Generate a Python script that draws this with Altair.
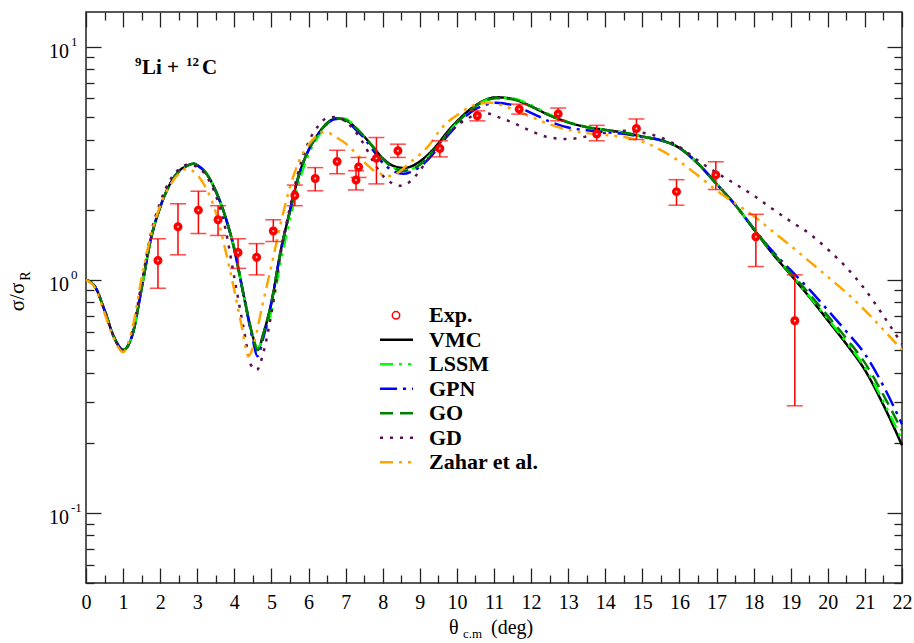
import altair as alt
import pandas as pd

# ---------------- data ----------------
MODELS = ["VMC", "LSSM", "GPN", "GO", "GD", "Zahar et al."]
COLORS = ["#000000", "#00ff00", "#0000ff", "#008000", "#5a1050", "#ffa500"]
DASHES = [[1, 0], [13, 6, 3, 6, 3, 6], [17, 6, 3, 6], [13, 7], [3, 7], [13, 6, 3, 6, 3, 6]]

THETA_A = [0, 0.25, 0.5, 0.75, 1.0, 1.25, 1.5, 1.75, 2.0, 2.25, 2.5, 2.75, 2.9, 3.0, 3.25,
           3.5, 3.75, 4.0, 4.25, 4.5, 4.62, 4.8, 5.0, 5.25, 5.5, 5.75, 6.0, 6.25, 6.5, 6.75,
           7.0, 7.25, 7.5, 7.75, 8.0, 8.25, 8.55, 8.75, 9.0, 9.25, 9.5, 9.75, 10.0, 10.25,
           10.5, 10.75, 11.05, 11.5, 12.0, 12.5, 13.0, 13.5, 14.0, 14.5, 15.0, 15.5, 16.0,
           16.5, 17.0, 17.5, 18.0, 18.5, 19.0, 19.5, 20.0, 20.5, 21.0, 21.5, 22.0]

VMC = [1.0, 0.93, 0.74, 0.57, 0.50, 0.58, 0.92, 1.50, 2.05, 2.55, 2.92, 3.10, 3.15, 3.10, 2.85,
       2.40, 1.88, 1.35, 0.86, 0.57, 0.50, 0.60, 0.80, 1.33, 1.98, 2.85, 3.60, 4.20, 4.70, 4.93,
       4.85, 4.52, 4.12, 3.70, 3.32, 3.10, 3.02, 3.06, 3.22, 3.48, 3.85, 4.33, 4.78, 5.22,
       5.60, 5.90, 6.07, 5.97, 5.55, 5.08, 4.74, 4.52, 4.40, 4.28, 4.12, 3.97, 3.68,
       3.15, 2.58, 2.10, 1.65, 1.30, 1.05, 0.845, 0.67, 0.53, 0.41, 0.29, 0.195]

LSSM = [1.0, 0.93, 0.74, 0.57, 0.50, 0.58, 0.92, 1.50, 2.05, 2.55, 2.92, 3.10, 3.15, 3.10, 2.85,
        2.40, 1.88, 1.35, 0.86, 0.57, 0.51, 0.58, 0.74, 1.20, 1.82, 2.65, 3.45, 4.10, 4.65, 4.95,
        4.90, 4.55, 4.12, 3.70, 3.30, 3.05, 2.95, 2.98, 3.12, 3.40, 3.78, 4.25, 4.72, 5.15,
        5.55, 5.88, 6.05, 6.00, 5.62, 5.12, 4.76, 4.53, 4.40, 4.28, 4.12, 3.97, 3.68,
        3.15, 2.58, 2.10, 1.66, 1.31, 1.06, 0.85, 0.68, 0.54, 0.42, 0.30, 0.205]

GPN = [1.0, 0.93, 0.74, 0.57, 0.50, 0.58, 0.92, 1.50, 2.05, 2.55, 2.92, 3.10, 3.15, 3.10, 2.85,
       2.40, 1.88, 1.35, 0.86, 0.55, 0.47, 0.58, 0.80, 1.33, 1.98, 2.85, 3.60, 4.20, 4.68, 4.90,
       4.80, 4.45, 4.05, 3.58, 3.18, 2.95, 2.85, 2.90, 3.05, 3.32, 3.70, 4.15, 4.60, 5.05,
       5.40, 5.62, 5.75, 5.62, 5.20, 4.78, 4.50, 4.38, 4.30, 4.23, 4.10, 3.97, 3.68,
       3.15, 2.58, 2.10, 1.66, 1.33, 1.10, 0.91, 0.74, 0.60, 0.48, 0.35, 0.24]

GO = [1.0, 0.93, 0.74, 0.57, 0.50, 0.58, 0.92, 1.50, 2.05, 2.55, 2.92, 3.10, 3.15, 3.10, 2.85,
      2.40, 1.88, 1.35, 0.86, 0.57, 0.50, 0.60, 0.80, 1.33, 1.98, 2.85, 3.60, 4.20, 4.70, 4.93,
      4.85, 4.52, 4.12, 3.70, 3.30, 3.05, 2.93, 2.97, 3.12, 3.40, 3.78, 4.25, 4.72, 5.15,
      5.55, 5.85, 6.02, 5.95, 5.55, 5.08, 4.74, 4.52, 4.40, 4.28, 4.12, 3.97, 3.68,
      3.15, 2.58, 2.10, 1.66, 1.32, 1.07, 0.87, 0.70, 0.56, 0.44, 0.32, 0.225]

THETA_GD = [0, 0.25, 0.5, 0.75, 1.0, 1.25, 1.5, 1.75, 2.0, 2.25, 2.5, 2.75, 3.0, 3.25, 3.5,
            3.75, 4.0, 4.25, 4.45, 4.6, 4.8, 5.0, 5.25, 5.5, 5.75, 6.0, 6.25, 6.5, 6.75, 7.0,
            7.25, 7.5, 7.75, 8.0, 8.25, 8.5, 8.75, 9.0, 9.25, 9.5, 9.75, 10.0, 10.25, 10.5,
            10.8, 11.1, 11.5, 12.0, 12.5, 13.0, 13.5, 14.0, 14.5, 15.0, 15.5, 16.0, 16.5,
            17.0, 17.5, 18.0, 18.5, 19.0, 19.5, 20.0, 20.5, 21.0, 21.5, 22.0]
GD = [1.0, 0.93, 0.74, 0.57, 0.50, 0.60, 0.97, 1.58, 2.15, 2.65, 2.98, 3.12, 3.05, 2.78, 2.30,
      1.68, 1.02, 0.62, 0.43, 0.41, 0.50, 0.72, 1.30, 2.05, 3.00, 3.90, 4.55, 4.95, 5.00, 4.78,
      4.35, 3.80, 3.20, 2.80, 2.60, 2.53, 2.65, 2.94, 3.35, 3.80, 4.22, 4.58, 4.88, 5.10,
      5.18, 5.00, 4.73, 4.35, 4.08, 4.02, 4.12, 4.28, 4.36, 4.28, 4.08, 3.72, 3.25,
      2.88, 2.58, 2.30, 2.02, 1.78, 1.58, 1.35, 1.13, 0.91, 0.70, 0.53]

THETA_Z = [0, 0.25, 0.5, 0.75, 1.0, 1.25, 1.5, 1.75, 2.0, 2.25, 2.5, 2.7, 3.0, 3.25, 3.5,
           3.75, 4.0, 4.2, 4.38, 4.55, 4.75, 5.0, 5.25, 5.5, 5.75, 6.0, 6.25, 6.45, 6.75,
           7.0, 7.25, 7.5, 7.75, 8.0, 8.2, 8.5, 8.75, 9.0, 9.25, 9.5, 9.75, 10.0, 10.35,
           10.6, 10.9, 11.2, 11.5, 12.0, 12.5, 13.0, 13.5, 14.0, 14.5, 15.0, 15.5, 16.0,
           16.5, 17.0, 17.5, 18.0, 18.5, 19.0, 19.5, 20.0, 20.5, 21.0, 21.5, 22.0]
ZAHAR = [1.0, 0.92, 0.72, 0.56, 0.49, 0.62, 1.02, 1.55, 2.08, 2.52, 2.85, 2.99, 2.82, 2.45,
         1.95, 1.36, 0.90, 0.63, 0.47, 0.55, 0.77, 1.15, 1.75, 2.50, 3.25, 3.80, 4.18, 4.32,
         4.08, 3.85, 3.52, 3.20, 2.95, 2.83, 2.79, 2.95, 3.20, 3.45, 3.78, 4.30, 4.75, 5.08,
         5.52, 5.70, 5.75, 5.62, 5.40, 5.00, 4.65, 4.40, 4.26, 4.18, 4.10, 3.92, 3.60,
         3.22, 2.80, 2.42, 2.13, 1.88, 1.62, 1.40, 1.20, 1.03, 0.88, 0.74, 0.61, 0.50]

EXP_THETA = [1.94, 2.48, 3.03, 3.56, 4.10, 4.60, 5.05, 5.63, 6.18, 6.77, 7.28, 7.35, 7.83,
             8.41, 9.54, 10.55, 11.68, 12.73, 13.77, 14.84, 15.92, 16.98, 18.06, 19.11]
EXP_VAL = [1.21, 1.69, 1.99, 1.81, 1.31, 1.25, 1.62, 2.30, 2.72, 3.22, 2.68, 3.05, 3.32,
           3.58, 3.66, 5.06, 5.40, 5.15, 4.22, 4.46, 2.39, 2.82, 1.53, 0.667]
EXP_LO = [0.92, 1.28, 1.58, 1.55, 1.12, 1.05, 1.46, 2.08, 2.41, 2.85, 2.43, 2.75, 2.58,
          3.35, 3.37, 4.81, 5.14, 4.81, 3.95, 4.00, 2.09, 2.44, 1.14, 0.288]
EXP_HI = [1.50, 2.12, 2.40, 2.08, 1.50, 1.43, 1.81, 2.55, 3.03, 3.60, 2.94, 3.35, 4.08,
          3.82, 3.95, 5.31, 5.67, 5.46, 4.60, 4.90, 2.69, 3.21, 1.91, 1.05]

DECADES = [0.1, 1, 10]
DECADE_EXP = ["-1", "0", "1"]
X_LABELS = list(range(0, 23))
X_TICKS = [v / 2 for v in range(0, 45)]
Y_TICKS = [0.05, 0.06, 0.07, 0.08, 0.09,
           0.1, 0.2, 0.3, 0.4, 0.5, 0.6, 0.7, 0.8, 0.9,
           1, 2, 3, 4, 5, 6, 7, 8, 9, 10]
LEGEND_NAMES = ["Exp."] + MODELS

# ---------------- layout / style ----------------
W, H = 816, 571
FONT = "Liberation Serif, Times New Roman, serif"
RED = "#ff0000"

xs = alt.Scale(domain=[0, 22], nice=False, zero=False)
ys = alt.Scale(type="log", domain=[0.05, 14.1], nice=False)


def X(field="theta"):
    return alt.X(f"{field}:Q", scale=xs, axis=None)


def Y(field="value"):
    return alt.Y(f"{field}:Q", scale=ys, axis=None)


color_scale = alt.Scale(domain=MODELS, range=COLORS)
dash_scale = alt.Scale(domain=MODELS, range=DASHES)

frames = []
for name, th, vals in [("VMC", THETA_A, VMC), ("LSSM", THETA_A, LSSM), ("GPN", THETA_A, GPN),
                       ("GO", THETA_A, GO), ("GD", THETA_GD, GD), ("Zahar et al.", THETA_Z, ZAHAR)]:
    frames.append(pd.DataFrame({"theta": th, "value": vals, "model": name}))
curves = pd.concat(frames, ignore_index=True)

lines = alt.Chart(curves).mark_line(interpolate="monotone", strokeWidth=2.5).encode(
    x=X(), y=Y(),
    color=alt.Color("model:N", scale=color_scale, legend=None),
    strokeDash=alt.StrokeDash("model:N", scale=dash_scale, legend=None),
)

exp = pd.DataFrame({"theta": EXP_THETA, "value": EXP_VAL, "lo": EXP_LO, "hi": EXP_HI})
bars = alt.Chart(exp).mark_rule(color=RED, strokeWidth=1.5).encode(x=X(), y=Y("lo"), y2="hi:Q")
cap_lo = alt.Chart(exp).mark_tick(color=RED, orient="horizontal", size=16, thickness=1.5).encode(
    x=X(), y=Y("lo"))
cap_hi = alt.Chart(exp).mark_tick(color=RED, orient="horizontal", size=16, thickness=1.5).encode(
    x=X(), y=Y("hi"))
pts = alt.Chart(exp).mark_point(shape="circle", filled=True, fill="#ffd0d0", stroke=RED,
                                strokeWidth=3.5, size=30, opacity=1).encode(x=X(), y=Y())

# axes: labels on the bottom, inward ticks on all four sides
ax_df = pd.DataFrame({"theta": [0, 22], "value": [0.1, 10]})
tick_x = {"condition": {"test": "datum.value % 1 === 0", "value": 15}, "value": 8}
major_y = "abs(log(datum.value) / LN10 - round(log(datum.value) / LN10)) < 0.001"
tick_y = {"condition": {"test": major_y, "value": 15}, "value": 8}

ax_labels = alt.Chart(ax_df).mark_point(opacity=0).encode(
    x=alt.X("theta:Q", scale=xs, axis=alt.Axis(
        orient="bottom", values=X_LABELS, ticks=False, domain=False, grid=False,
        labelFont=FONT, labelFontSize=20, labelColor="black", labelPadding=9,
        labelFlush=False, labelOverlap=False, title=None)),
    y=Y(),
)


def tick_axis_x(orient):
    return alt.Axis(orient=orient, offset=-H, values=X_TICKS, labels=False, domain=False,
                    grid=False, tickSize=tick_x, tickColor="#222222", tickWidth=1.3, title=None)


def tick_axis_y(orient):
    return alt.Axis(orient=orient, offset=-W, values=Y_TICKS, labels=False, domain=False,
                    grid=False, tickSize=tick_y, tickColor="#222222", tickWidth=1.3, title=None)


ax_in1 = alt.Chart(ax_df).mark_point(opacity=0).encode(
    x=alt.X("theta:Q", scale=xs, axis=tick_axis_x("top")),
    y=alt.Y("value:Q", scale=ys, axis=tick_axis_y("right")),
)
ax_in2 = alt.Chart(ax_df).mark_point(opacity=0).encode(
    x=alt.X("theta:Q", scale=xs, axis=tick_axis_x("bottom")),
    y=alt.Y("value:Q", scale=ys, axis=tick_axis_y("left")),
)

dec = pd.DataFrame({"value": DECADES, "exp": DECADE_EXP})
dec_base = alt.Chart(dec).mark_text(text="10", align="right", baseline="middle", font=FONT,
                                    fontSize=20, dy=5, color="black").encode(
    x=alt.value(-17), y=Y())
dec_sup = alt.Chart(dec).mark_text(align="left", baseline="middle", font=FONT, fontSize=13,
                                   dy=-5, color="black").encode(
    x=alt.value(-15), y=Y(), text="exp:N")

main = alt.layer(ax_labels, ax_in1, ax_in2, lines, bars, cap_lo, cap_hi, pts,
                 dec_base, dec_sup).resolve_axis(x="independent", y="independent")

# legend block and free text
leg = pd.DataFrame({"model": LEGEND_NAMES, "row": list(range(len(LEGEND_NAMES)))})
row_scale = alt.Scale(domain=[0, 6], range=[303.3, 450.3])
RY = alt.Y("row:Q", scale=row_scale, axis=None)

leg_lines = alt.Chart(leg[leg["model"] != "Exp."]).mark_rule(strokeWidth=2.5).encode(
    x=alt.value(294), x2=alt.value(327), y=RY,
    color=alt.Color("model:N", scale=color_scale, legend=None),
    strokeDash=alt.StrokeDash("model:N", scale=dash_scale, legend=None),
)
leg_pt = alt.Chart(leg[leg["model"] == "Exp."]).mark_point(
    shape="circle", filled=False, stroke=RED, strokeWidth=1.5, size=55, opacity=1).encode(
    x=alt.value(310), y=RY)
leg_text = alt.Chart(leg).mark_text(align="left", baseline="middle", font=FONT, fontSize=22,
                                    fontWeight="bold", color="black").encode(
    x=alt.value(343), y=RY, text="model:N")

one = pd.DataFrame({"k": [0]})


def label(txt, x, y, size, bold=False, angle=None, align="left", baseline="alphabetic"):
    kw = dict(text=txt, align=align, baseline=baseline, font=FONT, fontSize=size,
              color="black")
    if bold:
        kw["fontWeight"] = "bold"
    if angle is not None:
        kw["angle"] = angle
    return alt.Chart(one).mark_text(**kw).encode(x=alt.value(x), y=alt.value(y))


texts = [
    label("9", 49, 54, 13, bold=True),
    label("Li +", 56, 62, 21, bold=True),
    label("12", 100, 54, 13, bold=True),
    label("C", 116, 62, 21, bold=True),
    label("σ/σ", -68, 285, 21, angle=270, align="center", baseline="middle"),
    label("R", -60, 264, 14, angle=270, align="center", baseline="middle"),
    label("θ", 363, 622, 20),
    label("c.m", 377, 626, 13),
    label("(deg)", 405, 622, 20),
]

legend_layer = alt.layer(leg_lines, leg_pt, leg_text, *texts)

chart = alt.layer(main, legend_layer).resolve_scale(y="independent").properties(
    width=W, height=H,
    padding={"left": 86, "top": 12, "right": 12, "bottom": 60},
    autosize=alt.AutoSizeParams(type="none"),
    background="white",
).configure_view(stroke="#222222", strokeWidth=1.5)

chart.save("out.html", embed_options={"renderer": "svg", "actions": False})
